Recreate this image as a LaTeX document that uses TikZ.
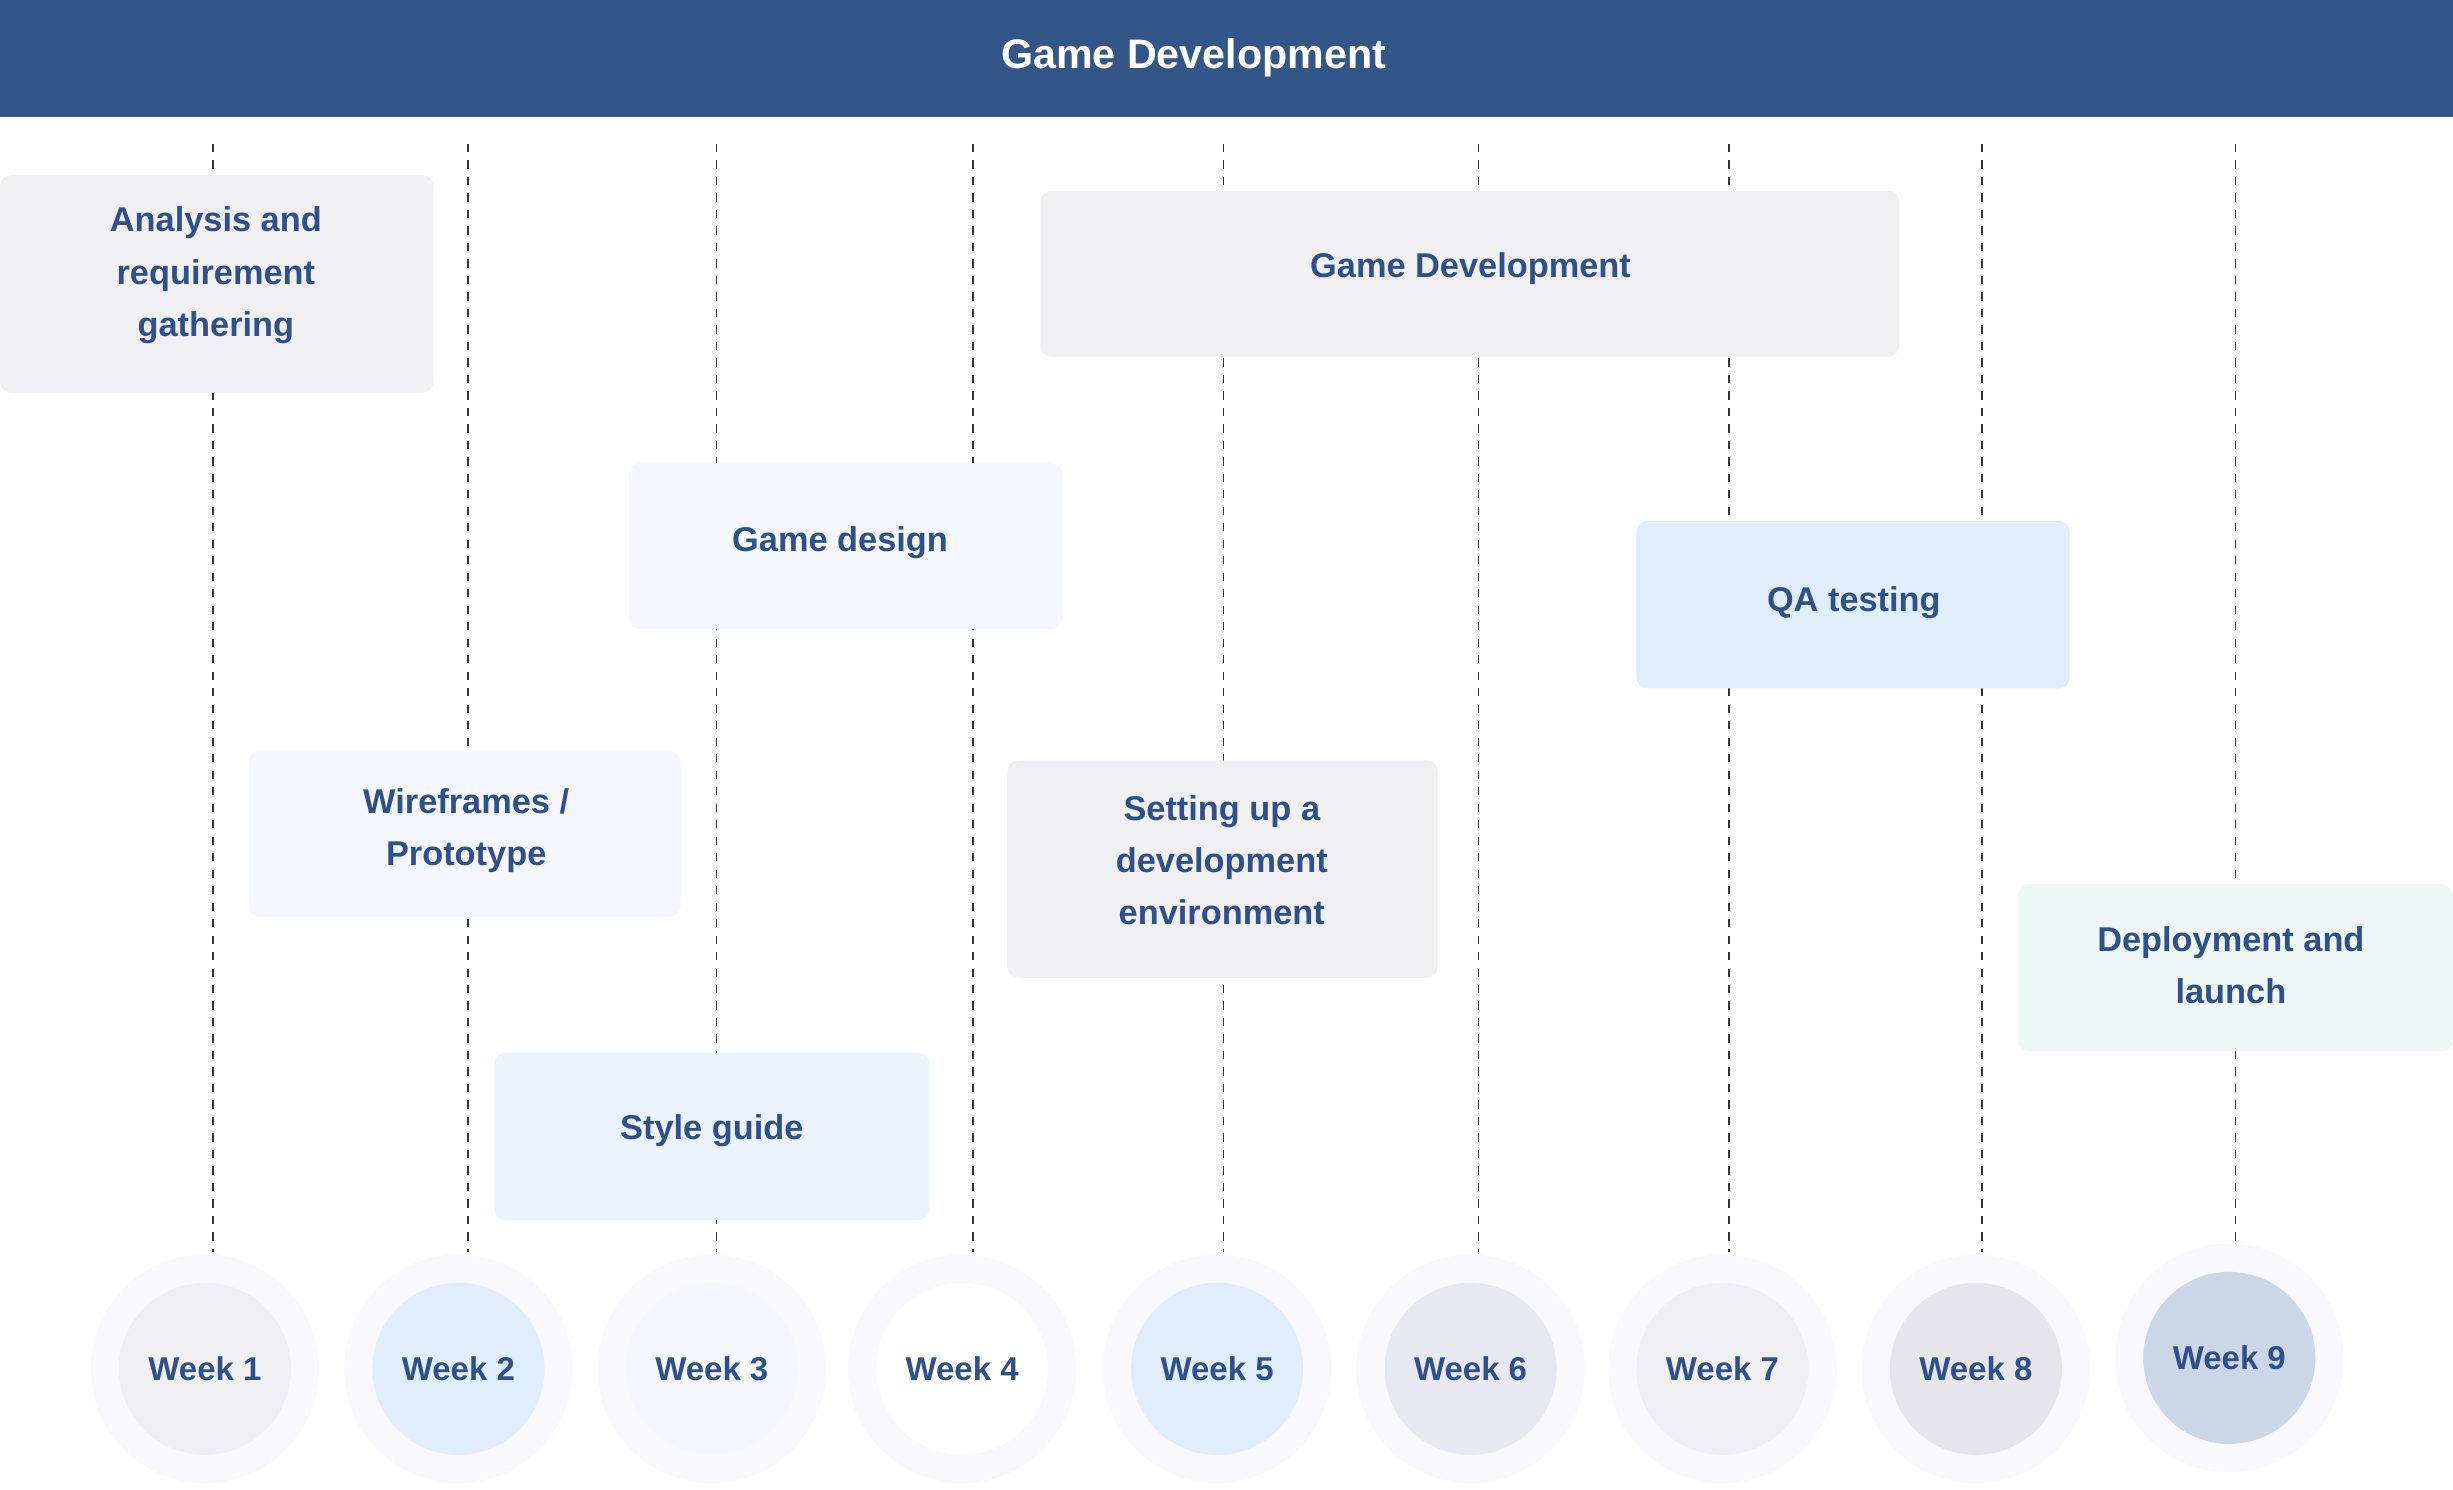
\documentclass[tikz,border=0pt]{standalone}
\usepackage{fontspec}
\setmainfont{Liberation Sans}
\usepackage{xcolor}
\definecolor{headblue}{HTML}{335689}
\definecolor{textblue}{HTML}{2F5088}
\definecolor{greybox}{HTML}{F0F0F2}
\definecolor{paleblue}{HTML}{F4F8FE}
\definecolor{lightblue}{HTML}{E0EDFC}
\definecolor{softblue}{HTML}{EBF3FE}
\definecolor{palegreen}{HTML}{EEF6F6}
\definecolor{ring}{HTML}{F8F8FD}
\definecolor{lilac}{HTML}{E8E8F2}
\definecolor{midgrey}{HTML}{E6E6EA}
\definecolor{slate}{HTML}{CBD7E6}
\tikzset{
    task/.style={rounded corners=4pt,text=textblue,font=\bfseries\fontsize{12.5}{19}\selectfont,align=center},
    week/.style={circle,minimum size=2.2cm,text=textblue,font=\bfseries\fontsize{12}{14}\selectfont},
    grid/.style={dashed,line width=0.6pt,black!80}
}
\begin{document}
\begin{tikzpicture}[x=0.02cm,y=-0.02cm]
        \useasboundingbox (0,0) rectangle (1568,952);
        \fill[headblue] (0,0) rectangle (1568,75);
        \node[text=white,font=\bfseries\fontsize{15}{18}\selectfont] (title) at (763,37){Game Development};
        % week columns
        \foreach \x/\yb in {136/800,299/800,458/800,622/800,782/800,945/800,1105/800,1267/800,1429/805}
            \draw[grid] (\x,92)--(\x,\yb);
        % tasks
        \fill[task,fill=greybox] (0,112) rectangle (277,251);
        \node[task] (analysis) at (138,176){Analysis and\\requirement\\gathering};
        \fill[task,fill=greybox] (665,122) rectangle (1214,228);
        \node[task] (dev) at (940,172){Game Development};
        \fill[task,fill=paleblue] (402,296) rectangle (679,402);
        \node[task] (design) at (537,347){Game design};
        \fill[task,fill=lightblue] (1046,333) rectangle (1323,440);
        \node[task] (qa) at (1185,385){QA testing};
        \fill[task,fill=paleblue] (159,480) rectangle (435,586);
        \node[task] (wire) at (298,531){Wireframes /\\Prototype};
        \fill[task,fill=greybox] (644,486) rectangle (919,625);
        \node[task] (setup) at (781,550){Setting up a\\development\\environment};
        \fill[task,fill=palegreen] (1290,565) rectangle (1568,672);
        \node[task] (deploy) at (1426,617){Deployment and\\launch};
        \fill[task,fill=softblue] (316,673) rectangle (594,780);
        \node[task] (style) at (455,723){Style guide};
        % weeks
        \foreach \x/\y/\c [count=\i] in {131/875/greybox,293/875/lightblue,455/875/paleblue,615/875/white,778/875/lightblue,940/875/lilac,1101/875/greybox,1263/875/midgrey,1425/868/slate}{
            \fill[ring] (\x,\y) circle (73);
            \node[week,fill=\c] (w\i) at (\x,\y){Week \i};
        }
    \end{tikzpicture}
\end{document}
